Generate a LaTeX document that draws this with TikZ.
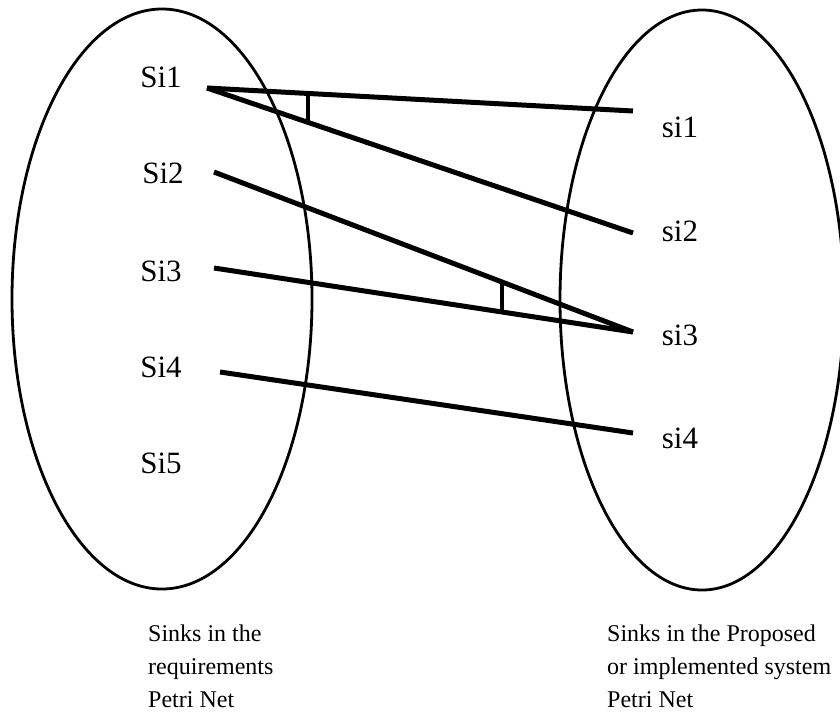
\documentclass[tikz,border=0pt]{standalone}
\usepackage{fontspec}
\setmainfont{Liberation Serif}
\usetikzlibrary{calc}
\begin{document}
\begin{tikzpicture}[x=1pt,y=-1pt,
  setline/.style={line width=2.8pt},
  mapline/.style={line width=5pt},
  tickline/.style={line width=3.4pt},
  lbl/.style={font=\fontsize{31}{34}\selectfont, inner sep=0pt},
  captxt/.style={font=\fontsize{24}{33}\selectfont, align=left, anchor=north west, inner sep=0pt}]
\useasboundingbox (0,0) rectangle (840,726);
% sets
\draw[setline] (162,299) ellipse [x radius=150, y radius=290];
\draw[setline] (702,300) ellipse [x radius=142, y radius=290];
% labels left
\node[lbl] (Si1) at (161,77) {Si1};
\node[lbl] (Si2) at (163,173) {Si2};
\node[lbl] (Si3) at (161,271) {Si3};
\node[lbl] (Si4) at (161,367) {Si4};
\node[lbl] (Si5) at (161,463) {Si5};
% labels right
\node[lbl] (si1) at (680,127) {si1};
\node[lbl] (si2) at (680,231) {si2};
\node[lbl] (si3) at (680,335) {si3};
\node[lbl] (si4) at (680,438) {si4};
% connector ends
\coordinate (a1) at (207,88);
\coordinate (a2) at (214,172);
\coordinate (a3) at (214,268);
\coordinate (a4) at (220,372);
\coordinate (b1) at (633,111);
\coordinate (b2) at (633,233);
\coordinate (b3) at (633,332);
\coordinate (b4) at (633,433);
% mappings
\draw[mapline] (a1) -- (b1);
\draw[mapline] (a1) -- (b2);
\draw[mapline] (a2) -- (b3);
\draw[mapline] (a3) -- (b3);
\draw[mapline] (a4) -- (b4);
% angle ticks
\draw[tickline] ($(a1)!0.237!(b1)$) -- ($(a1)!0.237!(b2)$);
\draw[tickline] ($(a2)!0.687!(b3)$) -- ($(a3)!0.687!(b3)$);
% captions
\node[captxt] (capL) at (148,625) {Sinks in the\\requirements\\Petri Net};
\node[captxt] (capR) at (607,625) {Sinks in the Proposed\\or implemented system\\Petri Net};
\end{tikzpicture}
\end{document}
